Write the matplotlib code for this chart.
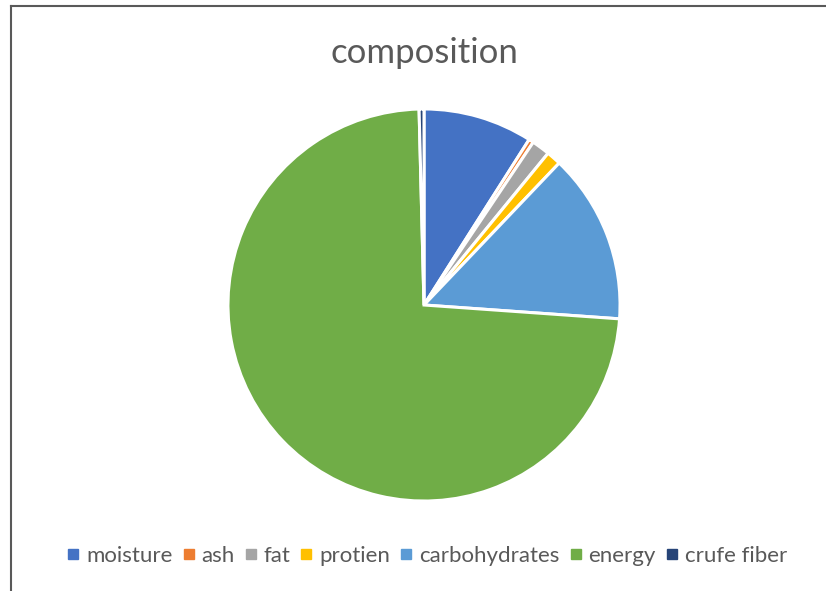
import matplotlib.pyplot as plt
from matplotlib.lines import Line2D

labels = ["moisture", "ash", "fat", "protien", "carbohydrates", "energy", "crufe fiber"]
values = [9.0, 0.4, 1.5, 1.2, 14.0, 73.4, 0.4]
colors = ["#4472C4", "#ED7D31", "#A5A5A5", "#FFC000", "#5B9BD5", "#70AD47", "#264478"]

plt.rcParams["font.family"] = ["Lato", "DejaVu Sans"]

W, H = 826, 591
fig = plt.figure(figsize=(W / 100, H / 100), dpi=100)

# pie centred at (424, 305) px with radius 198 px
cx, cy, r = 424, 305, 198
ax = fig.add_axes([(cx - r) / W, (H - cy - r) / H, 2 * r / W, 2 * r / H])
ax.pie(values, colors=colors, startangle=90, counterclock=False, radius=1,
       wedgeprops={"edgecolor": "white", "linewidth": 2.2})
ax.set_xlim(-1.01, 1.01)
ax.set_ylim(-1.01, 1.01)
ax.set_aspect("equal")
ax.axis("off")

fig.text(cx / W, 1 - 53 / H, "composition", ha="center", va="center",
         fontsize=25, color="#595959")

handles = [Line2D([], [], marker="s", linestyle="none", markersize=6.5,
                  markerfacecolor=c, markeredgecolor=c) for c in colors]
fig.legend(handles, labels, loc="center", bbox_to_anchor=(427 / W, 1 - 556 / H),
           ncol=len(labels), frameon=False, fontsize=16, labelcolor="#595959",
           handlelength=0.55, handletextpad=0.3, columnspacing=0.45)

# chart frame: only the top and left edges show
fig.add_artist(Line2D([10.5 / W, 10.5 / W], [0, 1 - 5.5 / H], transform=fig.transFigure,
                      color="#595959", linewidth=1.5))
fig.add_artist(Line2D([10.5 / W, 1], [1 - 5.5 / H, 1 - 5.5 / H], transform=fig.transFigure,
                      color="#595959", linewidth=1.5))

fig.savefig("out.png", dpi=100)
